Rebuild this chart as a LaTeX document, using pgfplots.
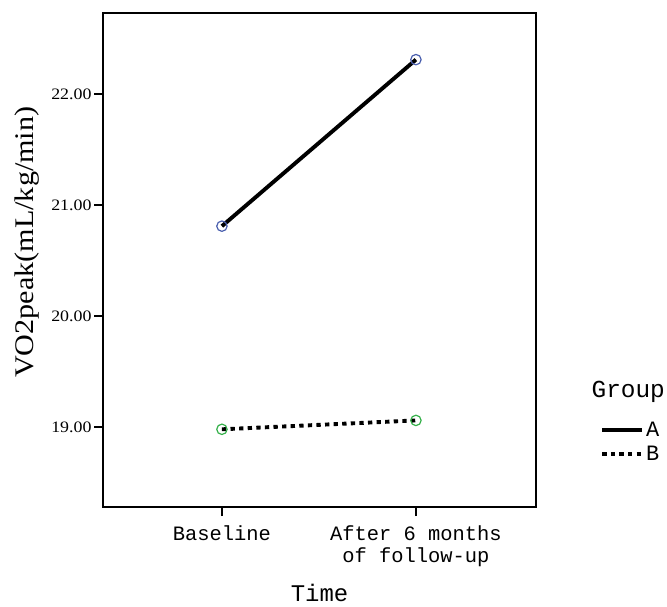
\documentclass[border=0pt]{standalone}
\usepackage{pgfplots}
\pgfplotsset{compat=1.18}
\usepackage{fontspec}
\setmainfont{Liberation Serif}
\newfontfamily\monofont{Liberation Mono}
\newfontfamily\widefont[FakeStretch=1.12]{Liberation Serif}

\definecolor{GrpABlue}{HTML}{4A5FAE}
\definecolor{GrpBGreen}{HTML}{35B04A}

\begin{document}
\begin{tikzpicture}
\begin{axis}[
  scale only axis,
  width=433bp,
  height=494bp,
  clip=false,
  xmin=-0.613, xmax=1.619,
  ymin=18.28, ymax=22.73,
  xtick={0,1},
  xticklabels={Baseline, After 6 months\\of follow-up},
  x tick label style={font=\monofont\fontsize{20.5}{22}\selectfont, align=center, yshift=-6bp},
  ytick={19,20,21,22},
  y tick label style={font=\widefont\fontsize{16}{16}\selectfont, xshift=1bp},
  /pgf/number format/assume math mode=true,
  yticklabel={\pgfmathprintnumber[fixed,zerofill,precision=2]{\tick}},
  axis line style={line width=1.3bp},
  tick style={black, line width=2bp},
  major tick length=9bp,
  xtick pos=bottom, ytick pos=left,
  tick align=outside,
  xlabel={Time},
  xlabel style={font=\monofont\fontsize{24}{24}\selectfont, inner sep=0pt, at={(axis description cs:0.5,-0.192)}, anchor=base},
  ylabel={VO2peak(mL/kg/min)},
  ylabel style={font=\widefont\fontsize{27}{27}\selectfont, inner sep=0pt, at={(axis description cs:-0.176,0.536)}, anchor=center},
  legend style={draw=none, fill=none, at={(axis description cs:1.148,0.176)}, anchor=north west,
    font=\monofont\fontsize{22}{22}\selectfont, inner sep=0pt, row sep=4bp,
    /tikz/every even column/.append style={column sep=2bp}},
  legend cell align=left,
  legend image code/.code={\draw[#1,mark=none] (0bp,0bp) -- (40bp,0bp);},
]
\addplot[black, line width=3.9bp, mark=o, mark size=5.2bp,
  mark options={GrpABlue, line width=1.2bp, solid}] coordinates {
  (0,20.81) (1,22.31)
};
\addlegendentry{A}
\addplot[black, line width=3.9bp, dash pattern=on 4.3bp off 4.3bp, mark=o, mark size=5.2bp,
  mark options={GrpBGreen, line width=1.2bp, solid}] coordinates {
  (0,18.98) (1,19.06)
};
\addlegendentry{B}
\node[font=\monofont\fontsize{24.5}{24.5}\selectfont, inner sep=0pt] at (axis description cs:1.213,0.233) {Group};
\path (axis description cs:-0.2379,-0.2024) rectangle (axis description cs:1.3025,1.0263);
\end{axis}
\end{tikzpicture}
\end{document}
